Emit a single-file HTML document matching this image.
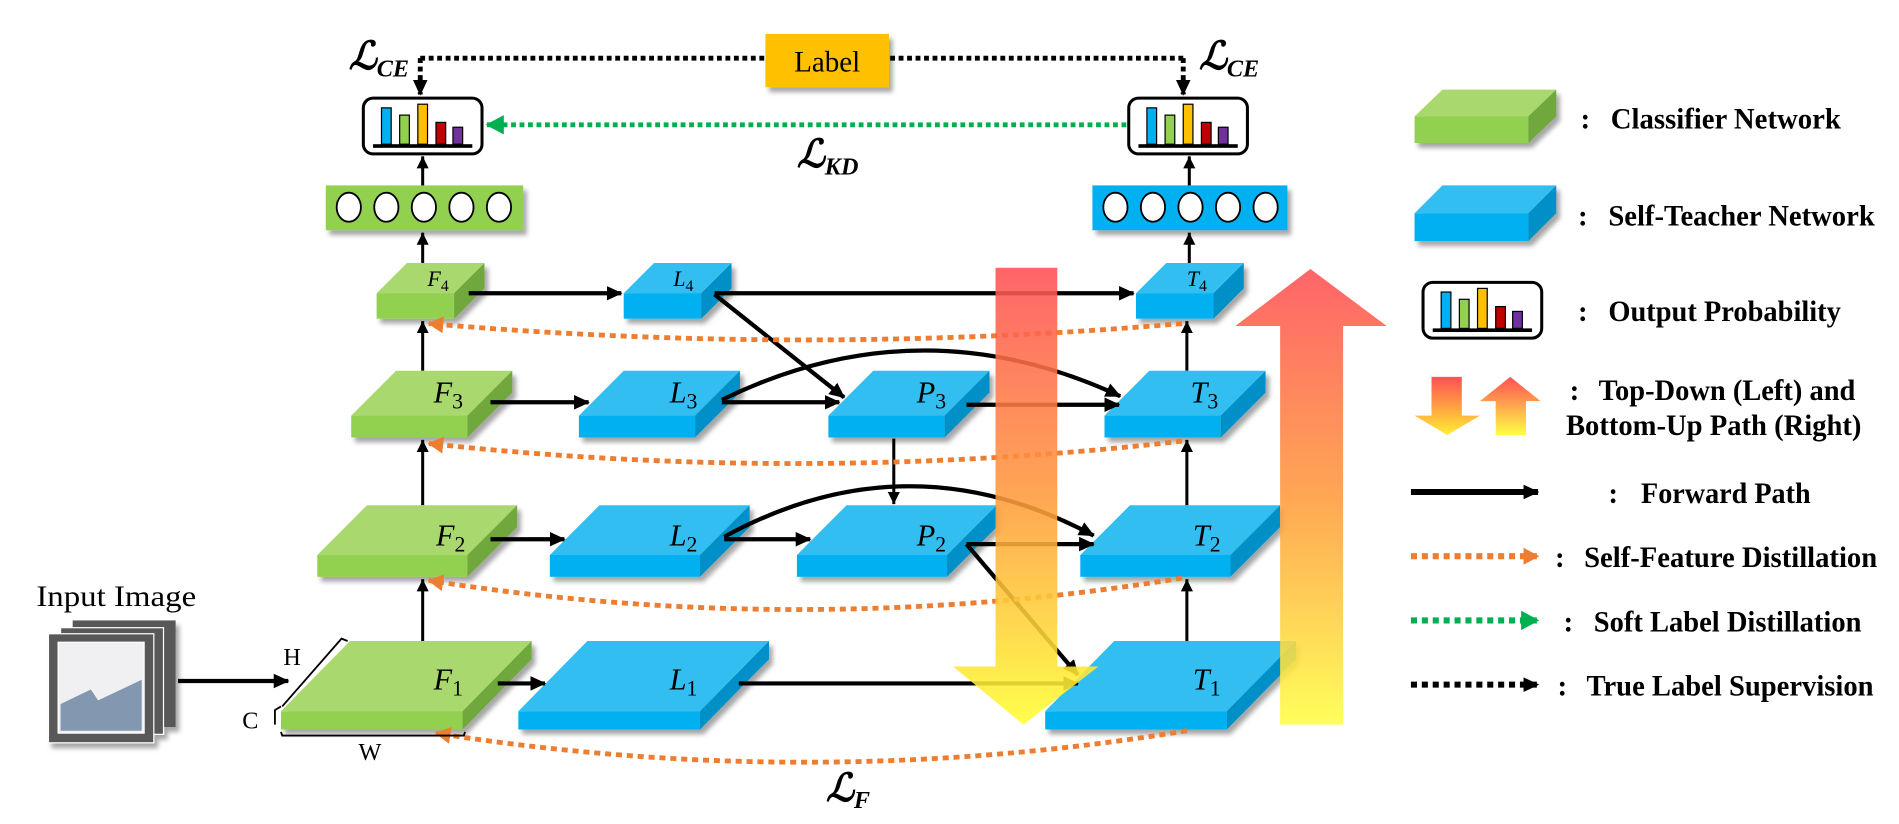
<!DOCTYPE html>
<html><head><meta charset="utf-8"><style>
html,body{margin:0;padding:0;background:#fff;}
svg{display:block;}
text{font-family:"Liberation Serif",serif;}
.lab{font-style:italic;font-size:25px;}
.lab4{font-style:italic;font-size:18px;}
.sub{font-style:normal;}
.leg{font-weight:bold;font-size:24px;}
</style></head><body>
<svg width="1899" height="824" viewBox="0 0 1568 680" preserveAspectRatio="none" xmlns="http://www.w3.org/2000/svg">
<defs>
<filter id="sh" x="-20%" y="-20%" width="150%" height="160%"><feDropShadow dx="3" dy="4" stdDeviation="2" flood-color="#000" flood-opacity="0.35"/></filter>
<marker id="ah" markerUnits="userSpaceOnUse" markerWidth="14" markerHeight="12" refX="12" refY="6" orient="auto"><path d="M0,0 L13,6 L0,12 Z" fill="#000"/></marker>
<marker id="ahs" markerUnits="userSpaceOnUse" markerWidth="11" markerHeight="10" refX="10" refY="5" orient="auto"><path d="M0,0 L10,5 L0,10 Z" fill="#000"/></marker>
<marker id="ao" markerUnits="userSpaceOnUse" markerWidth="14" markerHeight="14" refX="12" refY="7" orient="auto"><path d="M0,0 L13,7 L0,14 Z" fill="#ED7D31"/></marker>
<marker id="ag" markerUnits="userSpaceOnUse" markerWidth="16" markerHeight="16" refX="14" refY="8" orient="auto"><path d="M0,0 L15,8 L0,16 Z" fill="#00B050"/></marker>
<linearGradient id="gd" gradientUnits="userSpaceOnUse" x1="0" y1="221" x2="0" y2="598"><stop offset="0" stop-color="#FF4F55"/><stop offset="0.5" stop-color="#FF9A3C"/><stop offset="1" stop-color="#FFFF33"/></linearGradient>
<linearGradient id="gu" gradientUnits="userSpaceOnUse" x1="0" y1="222" x2="0" y2="598"><stop offset="0" stop-color="#FF4F55"/><stop offset="0.5" stop-color="#FF9A3C"/><stop offset="1" stop-color="#FFFF44"/></linearGradient>
<linearGradient id="gld" x1="0" y1="0" x2="0" y2="1"><stop offset="0" stop-color="#FF4F55"/><stop offset="1" stop-color="#FFEE33"/></linearGradient>
<linearGradient id="glu" x1="0" y1="0" x2="0" y2="1"><stop offset="0" stop-color="#FF4F55"/><stop offset="1" stop-color="#FFFF44"/></linearGradient>
<g id="prob">
<rect x="0" y="0" width="98" height="46" rx="8" fill="#fff" stroke="#000" stroke-width="2.5"/>
<rect x="15" y="8" width="8" height="30" fill="#00B0F0" stroke="#000" stroke-width="1"/>
<rect x="30" y="14" width="8" height="24" fill="#92D050" stroke="#000" stroke-width="1"/>
<rect x="45" y="5" width="8" height="33" fill="#FFC000" stroke="#000" stroke-width="1"/>
<rect x="60" y="20" width="8" height="18" fill="#C00000" stroke="#000" stroke-width="1"/>
<rect x="74" y="24" width="8" height="14" fill="#7030A0" stroke="#000" stroke-width="1"/>
<rect x="8" y="38" width="82" height="3" fill="#000"/>
</g>
<g id="dots">
<ellipse cx="19" cy="18" rx="10" ry="12" fill="#fff" stroke="#000" stroke-width="1.5"/>
<ellipse cx="50" cy="18" rx="10" ry="12" fill="#fff" stroke="#000" stroke-width="1.5"/>
<ellipse cx="81" cy="18" rx="10" ry="12" fill="#fff" stroke="#000" stroke-width="1.5"/>
<ellipse cx="112" cy="18" rx="10" ry="12" fill="#fff" stroke="#000" stroke-width="1.5"/>
<ellipse cx="143" cy="18" rx="10" ry="12" fill="#fff" stroke="#000" stroke-width="1.5"/>
</g>
</defs>

<path d="M347,48 H632 M735,48 H977" stroke="#000" stroke-width="4" stroke-dasharray="4,3" fill="none"/>
<path d="M347,48 V78" stroke="#000" stroke-width="4" stroke-dasharray="4,3" fill="none" marker-end="url(#ah)"/>
<path d="M977,48 V78" stroke="#000" stroke-width="4" stroke-dasharray="4,3" fill="none" marker-end="url(#ah)"/>
<rect x="632" y="28" width="102" height="44" fill="#FFC000" filter="url(#sh)"/>
<text x="683" y="59" font-size="24" text-anchor="middle">Label</text>
<text x="288" y="57" font-size="32" font-style="italic" font-weight="bold">ℒ<tspan font-size="20" dy="6">CE</tspan></text>
<text x="990" y="57" font-size="32" font-style="italic" font-weight="bold">ℒ<tspan font-size="20" dy="6">CE</tspan></text>

<use href="#prob" x="300" y="81"/>
<use href="#prob" x="932" y="81"/>
<path d="M930,103 H402" stroke="#00B050" stroke-width="4" stroke-dasharray="4,3" fill="none" marker-end="url(#ag)"/>
<text x="658" y="138" font-size="32" font-style="italic" font-weight="bold">ℒ<tspan font-size="20" dy="6">KD</tspan></text>

<rect x="269" y="153" width="163" height="37" fill="#92D050" filter="url(#sh)"/>
<use href="#dots" x="269" y="153"/>
<rect x="902" y="153" width="161" height="37" fill="#00B0F0" filter="url(#sh)"/>
<use href="#dots" x="902" y="153"/>

<g stroke="#000" stroke-width="2.5" fill="none" marker-end="url(#ahs)">
<path d="M349,153 V129"/><path d="M349,217 V192"/><path d="M349,306 V265"/><path d="M349,417 V363"/><path d="M349,529 V478"/>
<path d="M982,153 V129"/><path d="M982,217 V192"/><path d="M980,306 V265"/><path d="M980,417 V363"/><path d="M980,529 V478"/>
<path d="M738,362 V416"/>
</g>

<g filter="url(#sh)">
<g><polygon points="311,242 375,242 400,217 336,217" fill="#A9D86E"/><rect x="311" y="242" width="64" height="21" fill="#92D050"/><polygon points="375,242 400,217 400,238 375,263" fill="#70A83E"/></g>
<g><polygon points="515,242 579,242 604,217 540,217" fill="#30BEF0"/><rect x="515" y="242" width="64" height="21" fill="#00B0F0"/><polygon points="579,242 604,217 604,238 579,263" fill="#0090C8"/></g>
<g><polygon points="938,242 1002,242 1027,217 963,217" fill="#30BEF0"/><rect x="938" y="242" width="64" height="21" fill="#00B0F0"/><polygon points="1002,242 1027,217 1027,238 1002,263" fill="#0090C8"/></g>

<g><polygon points="290,343 386,343 423,306 327,306" fill="#A9D86E"/><rect x="290" y="343" width="96" height="18" fill="#92D050"/><polygon points="386,343 423,306 423,324 386,361" fill="#70A83E"/></g>
<g><polygon points="478,343 574,343 611,306 515,306" fill="#30BEF0"/><rect x="478" y="343" width="96" height="18" fill="#00B0F0"/><polygon points="574,343 611,306 611,324 574,361" fill="#0090C8"/></g>
<g><polygon points="684,343 780,343 817,306 721,306" fill="#30BEF0"/><rect x="684" y="343" width="96" height="18" fill="#00B0F0"/><polygon points="780,343 817,306 817,324 780,361" fill="#0090C8"/></g>
<g><polygon points="912,343 1008,343 1045,306 949,306" fill="#30BEF0"/><rect x="912" y="343" width="96" height="18" fill="#00B0F0"/><polygon points="1008,343 1045,306 1045,324 1008,361" fill="#0090C8"/></g>

<g><polygon points="262,458 386,458 427,417 303,417" fill="#A9D86E"/><rect x="262" y="458" width="124" height="18" fill="#92D050"/><polygon points="386,458 427,417 427,435 386,476" fill="#70A83E"/></g>
<g><polygon points="454,458 578,458 619,417 495,417" fill="#30BEF0"/><rect x="454" y="458" width="124" height="18" fill="#00B0F0"/><polygon points="578,458 619,417 619,435 578,476" fill="#0090C8"/></g>
<g><polygon points="658,458 782,458 823,417 699,417" fill="#30BEF0"/><rect x="658" y="458" width="124" height="18" fill="#00B0F0"/><polygon points="782,458 823,417 823,435 782,476" fill="#0090C8"/></g>
<g><polygon points="892,458 1016,458 1057,417 933,417" fill="#30BEF0"/><rect x="892" y="458" width="124" height="18" fill="#00B0F0"/><polygon points="1016,458 1057,417 1057,435 1016,476" fill="#0090C8"/></g>

<g><polygon points="232,587 382,587 439,529 289,529" fill="#A9D86E"/><rect x="232" y="587" width="150" height="15" fill="#92D050"/><polygon points="382,587 439,529 439,544 382,602" fill="#70A83E"/></g>
<g><polygon points="428,587 578,587 635,529 485,529" fill="#30BEF0"/><rect x="428" y="587" width="150" height="15" fill="#00B0F0"/><polygon points="578,587 635,529 635,544 578,602" fill="#0090C8"/></g>
<g><polygon points="863,587 1013,587 1070,529 920,529" fill="#30BEF0"/><rect x="863" y="587" width="150" height="15" fill="#00B0F0"/><polygon points="1013,587 1070,529 1070,544 1013,602" fill="#0090C8"/></g>
</g>

<text class="lab4" x="353" y="236">F<tspan class="sub" font-size="13" dy="4">4</tspan></text>
<text class="lab4" x="556" y="236">L<tspan class="sub" font-size="13" dy="4">4</tspan></text>
<text class="lab4" x="980" y="236">T<tspan class="sub" font-size="13" dy="4">4</tspan></text>
<text class="lab" x="358" y="332">F<tspan class="sub" font-size="18" dy="5">3</tspan></text>
<text class="lab" x="553" y="332">L<tspan class="sub" font-size="18" dy="5">3</tspan></text>
<text class="lab" x="757" y="332">P<tspan class="sub" font-size="18" dy="5">3</tspan></text>
<text class="lab" x="983" y="332">T<tspan class="sub" font-size="18" dy="5">3</tspan></text>
<text class="lab" x="360" y="450">F<tspan class="sub" font-size="18" dy="5">2</tspan></text>
<text class="lab" x="553" y="450">L<tspan class="sub" font-size="18" dy="5">2</tspan></text>
<text class="lab" x="757" y="450">P<tspan class="sub" font-size="18" dy="5">2</tspan></text>
<text class="lab" x="985" y="450">T<tspan class="sub" font-size="18" dy="5">2</tspan></text>
<text class="lab" x="358" y="569">F<tspan class="sub" font-size="18" dy="5">1</tspan></text>
<text class="lab" x="553" y="569">L<tspan class="sub" font-size="18" dy="5">1</tspan></text>
<text class="lab" x="985" y="569">T<tspan class="sub" font-size="18" dy="5">1</tspan></text>

<g stroke="#000" stroke-width="3.5" fill="none" marker-end="url(#ah)">
<path d="M387,242 H513"/><path d="M590,242 H936"/><path d="M590,243 L697,328"/>
<path d="M405,332 H486"/><path d="M596,332 H693"/><path d="M596,330 Q760,250 925,327"/><path d="M798,334 H924"/>
<path d="M405,445 H466"/><path d="M598,445 H669"/><path d="M598,443 Q750,360 903,442"/><path d="M798,449 H903"/>
<path d="M798,449 L890,557"/>
<path d="M147,562 H238"/><path d="M411,564 H450"/><path d="M610,564 H890"/>
</g>

<g stroke="#ED7D31" stroke-width="4" stroke-dasharray="5,4" fill="none" marker-end="url(#ao)">
<path d="M976,267 Q665,294 354,267"/>
<path d="M976,364 Q665,400 354,366"/>
<path d="M976,477 Q665,528 354,479"/>
<path d="M980,603 Q670,654 360,605"/>
</g>
<text x="682" y="661" font-size="32" font-style="italic" font-weight="bold">ℒ<tspan font-size="20" dy="6">F</tspan></text>

<g opacity="0.88">
<polygon points="822,221 873,221 873,550 907,550 845,598 787,550 822,550" fill="url(#gd)"/>
<polygon points="1057,598 1057,269 1020,269 1082,222 1145,269 1109,269 1109,598" fill="url(#gu)"/>
</g>

<g filter="url(#sh)">
<rect x="60" y="512" width="85" height="88" fill="#595959"/>
<rect x="50" y="518" width="85" height="88" fill="#595959" stroke="#fff" stroke-width="1"/>
<rect x="40" y="523" width="87" height="90" fill="#595959" stroke="#fff" stroke-width="1"/>
<rect x="48" y="530" width="71" height="75" fill="#F0F0F3" stroke="#fff" stroke-width="1"/>
<polygon points="50,581 75,569 81,578 117,561 117,603 50,603" fill="#8497B0"/>
</g>
<text x="30" y="500" font-size="24" textLength="132" lengthAdjust="spacingAndGlyphs">Input Image</text>
<path d="M232,583 L227,586 L227,598 M233,583 L282,527 L287,529" stroke="#000" stroke-width="1.5" fill="none"/>
<path d="M232,604 L233,607 H383 L384,604" stroke="#000" stroke-width="1.5" fill="none"/>
<text x="234" y="549" font-size="20">H</text>
<text x="200" y="601" font-size="20">C</text>
<text x="296" y="627" font-size="20">W</text>

<g filter="url(#sh)">
<polygon points="1168,96 1262,96 1285,74 1191,74" fill="#A9D86E"/><rect x="1168" y="96" width="94" height="22" fill="#92D050"/><polygon points="1262,96 1285,74 1285,96 1262,118" fill="#70A83E"/>
<polygon points="1168,176 1262,176 1285,153 1191,153" fill="#30BEF0"/><rect x="1168" y="176" width="94" height="23" fill="#00B0F0"/><polygon points="1262,176 1285,153 1285,176 1262,199" fill="#0090C8"/>
</g>
<use href="#prob" x="1175" y="233"/>
<polygon points="1182,311 1207,311 1207,343 1222,343 1195,359 1168,343 1182,343" fill="url(#gld)"/>
<polygon points="1235,359 1235,331 1222,331 1247,311 1272,331 1260,331 1260,359" fill="url(#glu)"/>
<path d="M1165,406 H1270" stroke="#000" stroke-width="5" marker-end="url(#ah)"/>
<path d="M1165,459 H1270" stroke="#ED7D31" stroke-width="5" stroke-dasharray="5,4" marker-end="url(#ao)"/>
<path d="M1165,512 H1270" stroke="#00B050" stroke-width="5" stroke-dasharray="5,4" marker-end="url(#ag)"/>
<path d="M1165,565 H1270" stroke="#000" stroke-width="5" stroke-dasharray="5,4" marker-end="url(#ah)"/>
<g class="leg">
<text class="leg" x="1305" y="106">:</text><text class="leg" x="1330" y="106" textLength="190" lengthAdjust="spacingAndGlyphs">Classifier Network</text>
<text class="leg" x="1303" y="186">:</text><text class="leg" x="1328" y="186" textLength="220" lengthAdjust="spacingAndGlyphs">Self-Teacher Network</text>
<text class="leg" x="1303" y="265">:</text><text class="leg" x="1328" y="265" textLength="192" lengthAdjust="spacingAndGlyphs">Output Probability</text>
<text class="leg" x="1296" y="330">:</text><text class="leg" x="1320" y="330" textLength="212" lengthAdjust="spacingAndGlyphs">Top-Down (Left) and</text>
<text class="leg" x="1293" y="359" textLength="244" lengthAdjust="spacingAndGlyphs">Bottom-Up Path (Right)</text>
<text class="leg" x="1328" y="415">:</text><text class="leg" x="1355" y="415" textLength="140" lengthAdjust="spacingAndGlyphs">Forward Path</text>
<text class="leg" x="1284" y="468">:</text><text class="leg" x="1308" y="468" textLength="242" lengthAdjust="spacingAndGlyphs">Self-Feature Distillation</text>
<text class="leg" x="1291" y="521">:</text><text class="leg" x="1316" y="521" textLength="221" lengthAdjust="spacingAndGlyphs">Soft Label Distillation</text>
<text class="leg" x="1286" y="574">:</text><text class="leg" x="1310" y="574" textLength="237" lengthAdjust="spacingAndGlyphs">True Label Supervision</text>
</g>
</svg>
</body></html>
